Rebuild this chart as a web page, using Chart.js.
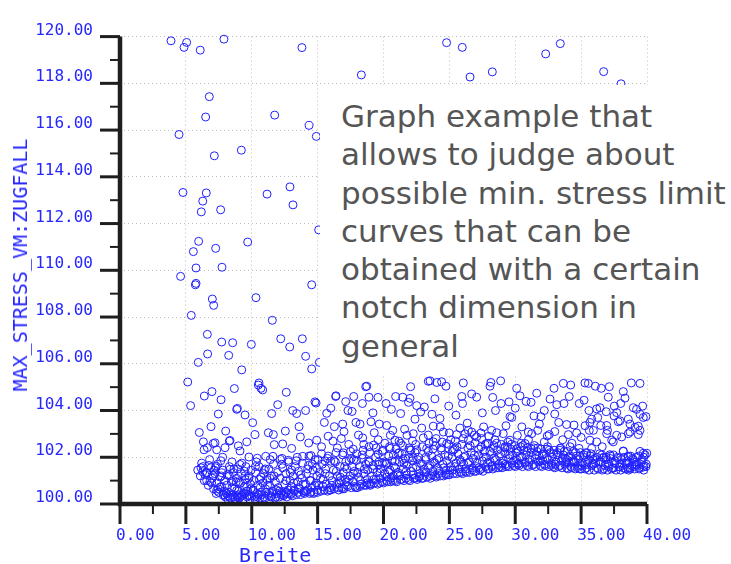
<!DOCTYPE html>
<html>
<head>
<meta charset="utf-8">
<script src="https://cdn.jsdelivr.net/npm/chart.js@4.4.1/dist/chart.umd.min.js"></script>
<style>
body { margin: 0; background: #fff; }
#wrap { position: relative; width: 731px; height: 564px; overflow: hidden; }
#chart { position: absolute; left: 0; top: 0; }
.axis-title {
    position: absolute;
    font-family: "DejaVu Sans Mono", monospace;
    font-size: 20px;
    line-height: 20px;
    color: #2626ff;
    white-space: nowrap;
}
#ytitle { left: 20px; top: 265px; transform: translate(-50%, -50%) rotate(-90deg); }
#xtitle { left: 239px; top: 545px; }
#note {
    position: absolute;
    left: 320px; top: 85px;
    width: 411px; height: 291px;
    box-sizing: border-box;
    padding: 12px 0 0 21px;
    background: #fff;
    font-family: "DejaVu Sans", sans-serif;
    font-size: 31px;
    line-height: 38.3px;
    color: #555;
    white-space: nowrap;
}
</style>
</head>
<body>
<div id="wrap">
    <canvas id="chart" width="731" height="564"></canvas>
    <div class="axis-title" id="ytitle">MAX_STRESS_VM:ZUGFALL</div>
    <div class="axis-title" id="xtitle">Breite</div>
    <div id="note">Graph example that<br>allows to judge about<br>possible min. stress limit<br>curves that can be<br>obtained with a certain<br>notch dimension in<br>general</div>
</div>
<script>
// axis ticks (Breite / MAX_STRESS_VM:ZUGFALL)
var xMajor = [0, 5, 10, 15, 20, 25, 30, 35, 40];
var xMinor = [2.5, 7.5, 12.5, 17.5, 22.5, 27.5, 32.5, 37.5];
var yMajor = [100, 102, 104, 106, 108, 110, 112, 114, 116, 118, 120];
var yMinor = [101, 103, 105, 107, 109, 111, 113, 115, 117, 119];

// sparse designs with high stress, left part
var sparseTop = [
[3.87,119.82],[5.06,119.75],[4.86,119.54],[6.09,119.42],[7.89,119.89],[13.81,119.53],
[6.78,117.43],[6.50,116.56],[11.74,116.64],[14.35,116.20],[14.90,115.73],[4.48,115.81],
[7.16,114.90],[9.21,115.14],[4.78,113.33],[6.55,113.31],[6.28,112.96],[11.16,113.26],
[12.90,113.57],[13.13,112.80],[6.17,112.50],[7.64,112.59],[15.08,111.73],[5.97,111.24],
[5.57,110.80],[7.26,110.94],[9.69,111.21],[5.77,110.10],[7.74,110.13],[4.60,109.74],
[5.77,109.44],[5.72,109.38],[14.55,109.38],[7.01,108.77],[7.11,108.50],[10.32,108.83],
[5.41,108.07],[11.56,107.86],[6.63,107.26],[7.72,106.93],[8.55,106.90],[9.97,106.83],
[12.20,107.07],[12.88,106.72],[13.84,107.07],[6.65,106.42],[8.25,106.36],[14.09,106.32],
[5.94,106.06],[9.24,105.74],[14.55,105.78],[15.13,106.06],[5.14,105.22],[10.55,105.18]
];

// sparse designs, right part (mostly behind the note)
var topRight = [
[24.79,119.74],[25.98,119.54],[18.32,118.36],[26.57,118.27],[28.26,118.49],
[32.31,119.26],[33.42,119.70],[36.71,118.50],[38.03,117.98],[29.98,117.27]
];

// loose scatter between the dense band and ~105
var midLeft = [
[6.40,104.62],[6.98,104.81],[8.68,104.94],[7.67,104.46],[10.50,105.09],[10.70,104.95],[10.83,104.88],
[5.36,104.21],[7.46,103.85],[8.91,104.09],[9.49,103.81],[10.07,103.48],[11.51,103.87],[11.97,104.25],
[12.62,104.78],[13.11,104.00],[13.41,103.87],[14.09,104.00],[14.80,104.37],[6.02,103.06],[6.91,103.31],
[8.02,103.12],[10.25,102.97],[11.26,103.05],[11.64,102.97],[12.55,103.12],[13.59,103.31],[13.69,102.87],
[6.33,102.66],[7.21,102.62],[8.35,102.72],[6.38,102.32],[6.63,102.41],[7.34,102.32],[7.97,102.41],
[8.98,102.49],[9.11,102.27],[9.62,102.66],[11.71,102.54],[12.35,102.57],[13.03,102.38],[14.32,102.61],
[14.93,102.73],[7.79,102.00],[9.79,102.01],[10.42,101.96],[11.06,102.04],[11.61,102.04],[12.17,101.91],
[12.78,101.87],[13.87,102.04],[14.50,102.07],[8.86,104.05],[8.30,102.69],[7.08,102.59]
];

var midCenter = [
[16.37,104.60],[17.13,104.38],[17.74,104.60],[18.65,105.02],[18.90,104.57],[19.58,104.56],[20.19,104.30],
[20.92,104.60],[21.46,104.57],[22.06,105.02],[22.01,104.52],[22.52,104.21],[17.61,103.96],[15.69,103.88],
[15.51,103.49],[16.27,103.31],[16.90,103.42],[17.91,103.49],[18.22,103.42],[19.05,103.52],[19.68,103.42],
[20.24,103.36],[20.52,102.94],[21.30,103.87],[20.87,102.73],[21.18,102.69],[21.78,102.94],[22.39,103.63],
[18.42,102.83],[16.17,102.69],[16.80,102.80],[17.36,102.55],[18.50,102.55],[19.25,102.52],[19.91,102.25],
[20.49,102.38],[21.10,102.17],[22.01,102.32],[15.99,101.83],[16.95,102.19],[17.15,101.83],[17.96,101.86],
[18.85,101.83],[19.63,101.69],[20.24,101.76],[20.87,101.83],[21.50,101.90],[22.26,101.97],[18.73,105.04],
[23.40,105.25],[24.05,105.20],[28.15,105.20],[14.88,104.32],[16.39,104.63]
];

var midRight = [
[23.53,105.27],[24.41,105.23],[24.74,105.04],[26.06,105.18],[25.94,104.60],[26.69,104.71],[27.07,104.57],
[28.08,105.04],[28.89,105.27],[28.29,104.56],[28.92,104.30],[29.53,104.37],[30.11,104.95],[30.36,104.63],
[30.82,104.39],[31.63,104.74],[32.94,104.95],[33.65,105.16],[34.21,105.09],[33.15,104.25],[33.70,104.30],
[34.86,104.30],[35.22,104.44],[35.29,105.18],[36.08,105.04],[36.53,104.95],[37.06,104.57],[37.14,105.02],
[37.52,104.19],[38.20,104.81],[38.81,105.18],[39.47,105.16],[38.96,104.12],[39.67,104.19],[38.33,104.53],
[24.95,104.19],[22.82,103.94],[23.68,103.84],[24.29,103.66],[23.78,103.33],[23.02,102.83],[24.54,103.08],
[24.99,103.04],[25.55,102.97],[26.36,103.46],[26.69,103.08],[27.40,103.04],[29.60,103.74],[31.42,103.77],
[31.95,103.74],[31.83,103.42],[33.30,103.49],[33.90,103.40],[34.46,103.38],[34.66,103.04],[34.03,102.97],
[32.43,102.91],[32.58,102.97],[29.09,103.01],[31.25,103.01],[35.80,103.63],[36.26,103.70],[36.18,104.07],
[36.49,103.36],[36.94,103.36],[35.93,103.15],[35.67,102.73],[37.50,103.77],[37.95,103.56],[38.71,103.42],
[39.47,103.84],[39.92,103.74],[39.34,103.33],[38.71,103.08],[39.47,103.15],[37.32,102.73],[38.08,102.87],
[34.16,102.45],[33.40,102.38],[36.18,102.66],[39.47,102.25],[39.98,102.17],[38.20,102.25],[38.58,102.00],
[37.19,102.11],[36.69,101.97],[39.21,101.69],[39.77,101.65],[38.71,101.55],[37.95,101.58],[37.44,101.53],
[35.42,101.69],[34.41,101.80],[33.90,101.90],[35.42,102.17],[34.84,102.38],
[22.26,103.01],[23.28,102.38],[22.52,102.32],[23.78,102.66],[24.80,102.59],[25.30,102.32],[26.06,102.80],
[27.07,102.87],[27.83,102.59],[28.34,102.38],[29.22,102.45],[30.11,102.36],[30.74,102.59],[29.60,102.73],
[26.44,103.15],[28.21,103.15],[30.16,102.94],[30.99,103.08],
[32.64,104.49],[35.55,105.16],[36.43,104.12],[29.73,103.70],[35.67,103.49],[37.70,103.91],[37.82,103.52],
[38.58,103.63],[39.21,104.05],[39.72,103.70],[39.09,103.28],[35.62,103.15],[37.44,102.66],[36.94,103.01],
[37.70,102.94],[38.58,103.01],[39.34,102.97],[35.80,102.38],[38.20,102.27],[39.72,102.17],[39.72,101.58],
[39.09,101.69],[38.58,101.55]
];

var midFill = [
[15.3,102.45],[15.8,102.9],[16.5,102.4],[17.0,103.1],[17.7,102.35],[18.1,102.95],[18.9,102.45],[19.3,103.05],
[19.6,102.75],[20.1,102.6],[20.7,103.15],[21.3,102.6],[21.6,103.2],[22.2,102.7],[22.9,103.25],[23.4,102.95],
[24.0,102.8],[24.3,103.3],[25.1,102.75],[25.8,103.25],[26.2,103.0],[26.9,102.95],[27.6,103.3],[28.0,102.9],
[28.6,103.05],[29.3,103.35],[30.5,103.3],[31.0,102.75],[31.7,103.15],[32.2,102.65],[33.0,103.1],[33.6,102.75],
[34.3,102.6],[35.0,102.85],[35.3,103.35],[36.6,102.45],[37.0,103.15],
[16.0,104.1],[17.3,104.0],[18.4,104.3],[19.2,103.9],[20.6,104.05],[21.9,104.35],[23.1,104.15],[23.9,104.5],
[25.5,103.8],[26.0,104.3],[27.5,103.9],[28.5,104.0],[30.0,104.1],[31.2,104.35],[32.2,104.0],[33.0,103.85],
[34.1,104.6],[35.6,104.0],[36.9,103.95],[38.0,104.3]
];

// dense band near the minimum stress limit
var bandLeft = [
[6.28,101.38],[6.58,101.00],[7.29,101.62],[7.08,101.21],[7.72,101.34],[7.59,100.72],[8.10,100.44],
[8.35,101.48],[8.60,101.00],[8.86,100.58],[9.11,101.69],[9.49,101.21],[9.74,100.37],[7.84,100.37],
[7.34,100.58],[8.35,100.30],[8.73,100.24],[9.11,100.30],[9.62,100.72],[6.53,101.34],[7.24,101.55],[6.83,100.97],
[5.9,101.45],[6.1,101.2],[6.3,101.6],[6.4,101.0],[6.6,101.35],[6.7,100.8],[6.9,101.55],[7.0,101.1],[6.2,101.75],[6.8,101.9],
[7.1,100.65],[7.2,101.3],[7.35,100.9],[7.4,101.7],[7.5,100.5],[7.6,101.15],[7.7,100.75],[7.8,101.45],[7.9,100.4],[7.95,101.0],[7.3,100.45],[7.65,101.85],
[8.0,100.3],[8.1,100.8],[8.15,101.25],[8.25,100.5],[8.3,101.6],[8.4,100.25],[8.45,100.95],[8.55,100.4],[8.6,101.35],[8.7,100.65],[8.75,100.2],[8.85,101.1],[8.9,100.35],[8.95,101.5],[8.2,100.2],[8.5,101.8],
[9.0,100.55],[9.05,100.25],[9.15,100.9],[9.2,101.3],[9.3,100.4],[9.35,100.2],[9.45,100.75],[9.5,101.05],[9.55,101.6],[9.65,100.3],[9.7,100.55],[9.8,101.2],[9.85,100.2],[9.9,100.85],[9.95,101.45],[9.25,101.75],
[10.0,100.35],[10.1,100.6],[10.15,101.0],[10.25,100.2],[10.3,101.35],[10.4,100.45],[10.45,100.8],[10.55,101.6],[10.6,100.25],[10.7,101.15],[10.75,100.5],[10.85,100.9],[10.9,100.3],[10.95,101.45],[10.35,101.8],[10.65,100.7],
[11.0,100.25],[11.05,100.65],[11.15,101.05],[11.2,100.4],[11.3,101.5],[11.35,100.8],[11.45,100.3],[11.5,101.2],[11.6,100.55],[11.65,101.7],[11.75,100.25],[11.8,100.95],[11.9,100.45],[11.95,101.35],[11.4,101.9],
[12.0,100.7],[12.1,100.3],[12.15,101.1],[12.25,100.5],[12.35,101.55],[12.4,100.35],[12.5,100.85],[12.6,101.3],[12.65,100.3],[12.75,100.6],[12.8,101.8],[12.9,101.0],[12.95,100.4],[12.3,101.95],[12.55,100.45],
[13.0,100.75],[13.1,100.35],[13.15,101.2],[13.25,100.55],[13.3,101.6],[13.4,100.4],[13.5,100.95],[13.55,101.4],[13.65,100.65],[13.7,100.4],[13.8,101.1],[13.85,101.75],[13.95,100.5],[13.45,102.0],[13.2,100.9],
[14.0,100.45],[14.1,100.85],[14.15,101.3],[14.25,100.6],[14.3,101.65],[14.4,100.45],[14.5,101.0],[14.55,100.7],[14.65,101.45],[14.75,100.5],[14.8,101.9],[14.9,100.9],[14.95,101.2],[14.35,102.05],[14.7,100.45]
];

var bandMiddle = [
[15.0,100.5],[15.1,100.8],[15.15,101.35],[15.25,100.55],[15.35,101.7],[15.4,101.05],[15.5,100.6],[15.6,101.5],[15.65,100.85],[15.75,100.55],[15.8,102.05],[15.9,101.2],[15.95,100.7],[15.3,102.15],[15.55,101.85],
[16.0,100.6],[16.1,101.0],[16.2,101.45],[16.25,100.65],[16.35,101.8],[16.45,100.85],[16.5,101.2],[16.6,100.6],[16.7,101.6],[16.75,101.0],[16.85,100.7],[16.9,102.1],[16.95,101.35],[16.4,102.2],[16.65,100.9],
[17.0,100.65],[17.1,101.05],[17.2,101.5],[17.3,100.75],[17.4,101.85],[17.45,101.2],[17.55,100.7],[17.6,101.6],[17.7,100.95],[17.8,101.4],[17.85,100.75],[17.95,102.15],[17.5,102.25],[17.25,100.95],[17.75,101.9],
[18.0,100.7],[18.1,101.15],[18.2,101.6],[18.3,100.85],[18.4,101.95],[18.5,101.3],[18.55,100.8],[18.65,101.7],[18.75,101.05],[18.8,101.45],[18.9,100.85],[18.95,102.2],[18.45,102.3],[18.25,101.0],[18.7,100.8],
[19.0,100.8],[19.1,101.2],[19.2,101.65],[19.3,100.9],[19.4,102.0],[19.5,101.35],[19.55,100.85],[19.65,101.8],[19.75,101.1],[19.8,101.5],[19.9,100.95],[19.95,102.3],[19.45,102.4],[19.25,101.05],[19.7,100.9],
[20.0,100.9],[20.1,101.3],[20.2,101.7],[20.3,100.95],[20.4,102.05],[20.5,101.45],[20.55,100.95],[20.65,101.85],[20.75,101.2],[20.8,101.6],[20.9,101.0],[20.95,102.35],[20.45,102.45],[20.25,101.15],[20.7,101.0],
[21.0,100.95],[21.1,101.35],[21.2,101.8],[21.3,101.05],[21.4,102.15],[21.5,101.5],[21.55,101.0],[21.65,101.95],[21.75,101.25],[21.8,101.65],[21.9,101.05],[21.95,102.4],[21.45,102.5],[21.25,101.2],[21.7,101.1],
[22.0,101.0],[22.1,101.4],[22.2,101.85],[22.3,101.1],[22.4,102.2],[22.5,101.6],[22.55,101.05],[22.65,102.0],[22.75,101.3],[22.8,101.75],[22.9,101.1],[22.95,102.45],[22.45,102.55],[22.25,101.25],[22.7,101.15],
[23.0,101.1],[23.1,101.5],[23.2,101.9],[23.3,101.15],[23.4,102.25],[23.5,101.65],[23.55,101.1],[23.65,102.05],[23.75,101.4],[23.8,101.8],[23.9,101.2],[23.95,102.5],[23.45,102.6],[23.25,101.35],[23.7,101.25],
[24.0,101.15],[24.1,101.55],[24.2,101.95],[24.3,101.2],[24.4,102.3],[24.5,101.7],[24.55,101.2],[24.65,102.1],[24.75,101.45],[24.8,101.85],[24.9,101.25],[24.95,102.55],[24.45,102.65],[24.25,101.4],[24.7,101.3]
];

var bandRight = [
[25.0,101.25],[25.1,101.6],[25.2,102.0],[25.3,101.3],[25.4,102.35],[25.5,101.75],[25.55,101.3],[25.65,102.15],[25.75,101.5],[25.8,101.9],[25.9,101.35],[25.95,102.55],[25.45,102.7],[25.25,101.45],
[26.0,101.3],[26.1,101.7],[26.2,102.05],[26.3,101.35],[26.4,102.4],[26.5,101.8],[26.55,101.35],[26.65,102.2],[26.75,101.55],[26.8,101.95],[26.9,101.4],[26.95,102.6],[26.45,102.75],[26.25,101.5],
[27.0,101.4],[27.1,101.75],[27.2,102.1],[27.3,101.45],[27.4,102.45],[27.5,101.85],[27.55,101.4],[27.65,102.25],[27.75,101.6],[27.8,102.0],[27.9,101.5],[27.95,102.6],[27.45,102.8],[27.25,101.55],
[28.0,101.5],[28.1,101.8],[28.2,102.15],[28.3,101.5],[28.4,102.5],[28.5,101.9],[28.55,101.55],[28.65,102.3],[28.75,101.7],[28.8,102.05],[28.9,101.6],[28.95,102.55],[28.45,102.75],[28.25,101.65],
[29.0,101.55],[29.1,101.85],[29.2,102.2],[29.3,101.6],[29.4,102.45],[29.5,101.95],[29.55,101.6],[29.65,102.35],[29.75,101.75],[29.8,102.1],[29.9,101.65],[29.95,102.5],[29.45,102.65],[29.25,101.7],
[30.0,101.6],[30.1,101.9],[30.2,102.25],[30.3,101.65],[30.4,102.45],[30.5,102.0],[30.55,101.6],[30.65,102.3],[30.75,101.8],[30.8,102.1],[30.9,101.65],[30.95,102.4],[30.45,102.6],[30.25,101.75],
[31.0,101.6],[31.1,101.9],[31.2,102.2],[31.3,101.65],[31.4,102.4],[31.5,101.95],[31.55,101.6],[31.65,102.25],[31.75,101.8],[31.8,102.05],[31.9,101.65],[31.95,102.35],[31.45,102.5],
[32.0,101.6],[32.1,101.85],[32.2,102.15],[32.3,101.65],[32.4,102.35],[32.5,101.9],[32.55,101.6],[32.65,102.2],[32.75,101.75],[32.8,102.0],[32.9,101.6],[32.95,102.3],[32.45,102.45],
[33.0,101.55],[33.1,101.8],[33.2,102.1],[33.3,101.6],[33.4,102.3],[33.5,101.85],[33.55,101.55],[33.65,102.1],[33.75,101.7],[33.8,101.95],[33.9,101.55],[33.95,102.25],[33.45,102.4],
[34.0,101.5],[34.1,101.75],[34.2,102.05],[34.3,101.55],[34.4,102.25],[34.5,101.8],[34.55,101.5],[34.65,102.05],[34.75,101.65],[34.8,101.9],[34.9,101.5],[34.95,102.2],
[35.0,101.5],[35.1,101.75],[35.2,102.0],[35.3,101.5],[35.4,102.2],[35.5,101.8],[35.6,101.45],[35.7,102.05],[35.8,101.65],[35.9,101.9],
[36.0,101.45],[36.1,101.75],[36.2,102.0],[36.3,101.5],[36.4,102.15],[36.5,101.8],[36.6,101.45],[36.7,102.0],[36.8,101.65],[36.9,101.9],
[37.0,101.45],[37.1,101.7],[37.2,101.95],[37.3,101.5],[37.45,102.1],[37.55,101.75],[37.65,101.45],[37.8,101.95],[37.9,101.6],
[38.0,101.45],[38.1,101.75],[38.25,102.0],[38.35,101.5],[38.5,101.85],[38.6,101.45],[38.75,102.05],[38.85,101.65],[38.95,101.9],
[39.05,101.5],[39.2,101.8],[39.35,102.05],[39.45,101.55],[39.6,101.9],[39.75,101.45],[39.85,102.1],[39.95,101.7]
];

// second, less ordered layer of the band
var bandExtra = [
[6.15,101.55],[6.45,101.25],[6.75,101.65],[6.95,100.9],[7.15,101.45],[7.45,100.65],[7.7,101.2],[7.9,100.55],
[8.08,100.45],[8.3,101.2],[8.5,100.7],[8.65,101.5],[8.82,100.95],[8.95,100.3],
[9.05,100.95],[9.22,100.35],[9.45,101.4],[9.6,100.55],[9.78,101.1],[9.92,100.65],
[10.1,100.6],[10.28,101.6],[10.42,100.3],[10.58,101.05],[10.75,100.4],[10.9,101.3],
[11.03,101.5],[11.2,100.8],[11.38,101.1],[11.55,100.45],[11.7,101.2],[11.88,100.6],
[12.08,100.55],[12.28,101.7],[12.42,100.4],[12.6,101.0],[12.78,100.45],[12.92,101.35],
[13.03,101.45],[13.2,100.6],[13.38,101.85],[13.55,100.7],[13.72,101.25],[13.9,100.85],
[14.1,100.55],[14.25,101.5],[14.42,101.0],[14.6,101.7],[14.78,100.8],[14.92,101.55],
[15.05,101.9],[15.22,101.1],[15.4,100.75],[15.58,101.3],[15.75,101.95],[15.9,100.6],
[16.08,100.8],[16.25,101.85],[16.42,101.4],[16.58,100.7],[16.72,101.15],[16.9,100.65],
[17.05,101.6],[17.2,100.8],[17.4,101.05],[17.55,101.95],[17.72,101.3],[17.9,100.7],
[18.05,101.35],[18.22,100.75],[18.38,102.1],[18.55,101.5],[18.75,100.9],[18.92,101.8],
[19.05,100.85],[19.2,101.5],[19.42,101.05],[19.6,102.15],[19.75,101.35],[19.92,101.75],
[20.08,101.8],[20.22,101.0],[20.4,101.35],[20.58,101.1],[20.75,102.1],[20.9,101.55],
[21.05,101.25],[21.2,102.2],[21.38,101.05],[21.55,101.75],[21.72,101.4],[21.9,101.95],
[22.08,102.3],[22.22,101.55],[22.4,101.1],[22.58,101.9],[22.72,101.2],[22.9,101.7],
[23.05,101.35],[23.22,102.0],[23.4,101.55],[23.58,101.2],[23.75,102.35],[23.9,101.75],
[24.05,101.9],[24.2,101.3],[24.38,102.4],[24.58,101.55],[24.75,101.25],[24.92,102.05],
[25.05,101.45],[25.22,102.25],[25.4,101.6],[25.58,102.45],[25.75,101.35],[25.9,101.8],
[26.08,102.0],[26.22,101.4],[26.4,101.75],[26.58,102.5],[26.72,101.45],[26.9,102.1],
[27.05,101.6],[27.22,102.35],[27.38,101.5],[27.58,102.0],[27.72,102.55],[27.9,101.75],
[28.08,102.25],[28.22,101.6],[28.4,101.95],[28.58,102.6],[28.72,101.55],[28.9,102.15],
[29.05,101.75],[29.22,102.4],[29.38,101.65],[29.58,102.1],[29.72,102.55],[29.9,101.85],
[30.05,102.2],[30.2,101.7],[30.38,102.0],[30.58,102.5],[30.72,101.75],[30.9,102.25],
[31.05,101.8],[31.22,102.35],[31.4,101.7],[31.58,102.1],[31.72,102.4],[31.9,101.85],
[32.05,102.1],[32.2,101.7],[32.38,101.95],[32.58,102.3],[32.72,101.65],[32.9,102.15],
[33.05,101.7],[33.22,102.2],[33.4,101.65],[33.58,101.95],[33.72,102.25],[33.9,101.8],
[34.05,102.0],[34.22,101.6],[34.38,101.85],[34.58,102.2],[34.72,101.55],[34.9,102.05],
[35.05,101.65],[35.22,102.1],[35.4,101.55],[35.58,101.9],[35.75,102.15],[35.92,101.7],
[36.05,101.95],[36.22,101.55],[36.38,101.8],[36.58,102.1],[36.72,101.5],[36.9,102.0],
[37.05,101.6],[37.22,102.05],[37.38,101.55],[37.58,101.85],[37.75,102.0],[37.92,101.7],
[38.05,101.9],[38.22,101.55],[38.4,101.75],[38.58,102.05],[38.72,101.5],[38.9,101.95],
[39.05,101.6],[39.22,102.0],[39.4,101.5],[39.58,101.8],[39.75,102.0],[39.92,101.6]
];

// lowest designs along the limit curve
var bandFloor = [
[8.2,100.35],[8.6,100.3],[9.0,100.4],[9.4,100.45],[9.8,100.35],[10.2,100.3],[10.5,100.4],[10.8,100.2],
[11.1,100.5],[11.45,100.35],[11.85,100.3],[12.2,100.4],[12.6,100.5],[13.0,100.45],[13.5,100.5],[14.0,100.55],
[14.5,100.5],[15.0,100.6]
];

var allPoints = [].concat(sparseTop, topRight, midLeft, midCenter, midRight, midFill,
        bandLeft, bandMiddle, bandRight, bandExtra, bandFloor)
    .map(function(p) { return {x: p[0], y: p[1]}; });

var tickBlue = '#2626ff';
var monoFont = {family: '"DejaVu Sans Mono", monospace', size: 16};

// thick plotter style axes with major and minor ticks
var plotterAxes = {
    id: 'plotterAxes',
    afterDraw: function(chart) {
        var c = chart.ctx, a = chart.chartArea;
        var sx = chart.scales.x, sy = chart.scales.y;
        function seg(x1, y1, x2, y2, w) {
            c.lineWidth = w;
            c.beginPath(); c.moveTo(x1, y1); c.lineTo(x2, y2); c.stroke();
        }
        c.save();
        c.strokeStyle = '#1e1e1e';
        yMajor.forEach(function(v) { var p = sy.getPixelForValue(v); seg(a.left - 20, p, a.left, p, 3); });
        yMinor.forEach(function(v) { var p = sy.getPixelForValue(v); seg(a.left - 10, p, a.left, p, 2); });
        xMajor.forEach(function(v) { var p = sx.getPixelForValue(v); seg(p, a.bottom, p, a.bottom + 20, 3); });
        xMinor.forEach(function(v) { var p = sx.getPixelForValue(v); seg(p, a.bottom, p, a.bottom + 10, 2); });
        c.lineWidth = 4.5;
        c.lineJoin = 'miter';
        c.beginPath();
        c.moveTo(a.left, a.top);
        c.lineTo(a.left, a.bottom);
        c.lineTo(a.right, a.bottom);
        c.stroke();
        c.restore();
    }
};

new Chart(document.getElementById('chart'), {
    type: 'scatter',
    data: {
        datasets: [{
            data: allPoints,
            pointRadius: 4,
            pointHoverRadius: 4,
            borderWidth: 1,
            borderColor: '#1f1fff',
            backgroundColor: 'rgba(0,0,0,0)',
            clip: false
        }]
    },
    options: {
        responsive: false,
        animation: false,
        devicePixelRatio: 1,
        events: [],
        layout: {padding: {top: 23, right: 84, left: 0, bottom: 0}},
        plugins: {legend: {display: false}, tooltip: {enabled: false}},
        scales: {
            x: {
                type: 'linear', min: 0, max: 40,
                afterFit: function(s) { s.height = 60; },
                afterBuildTicks: function(s) { s.ticks = xMajor.map(function(v) { return {value: v}; }); },
                ticks: {
                    callback: function(v) { return v.toFixed(2); },
                    font: monoFont, color: tickBlue,
                    align: 'start', labelOffset: -4, padding: 22,
                    maxRotation: 0, autoSkip: false
                },
                grid: {color: '#bdbdbd', lineWidth: 1, drawTicks: false},
                border: {display: false, dash: [1, 3]}
            },
            y: {
                type: 'linear', min: 100, max: 120,
                afterFit: function(s) { s.width = 120; },
                afterBuildTicks: function(s) { s.ticks = yMajor.map(function(v) { return {value: v}; }); },
                ticks: {
                    callback: function(v) { return v.toFixed(2); },
                    font: monoFont, color: tickBlue,
                    labelOffset: -6, padding: 27, autoSkip: false
                },
                grid: {color: '#bdbdbd', lineWidth: 1, drawTicks: false},
                border: {display: false, dash: [1, 3]}
            }
        }
    },
    plugins: [plotterAxes]
});
</script>
</body>
</html>
